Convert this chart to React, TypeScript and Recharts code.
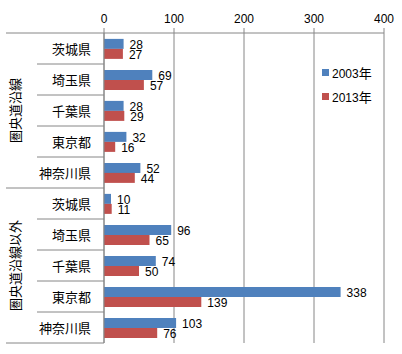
import { BarChart, Bar, XAxis, YAxis, CartesianGrid, Legend, LabelList } from "recharts";

// categories (prefectures), grouped by corridor
const groups = ["圏央道沿線", "圏央道沿線以外"];
const prefectures = ["茨城県", "埼玉県", "千葉県", "東京都", "神奈川県"];
const seriesNames = ["2003年", "2013年"];
const values2003 = [28, 69, 28, 32, 52, 10, 96, 74, 338, 103];
const values2013 = [27, 57, 29, 16, 44, 11, 65, 50, 139, 76];
const xTicks = [0, 100, 200, 300, 400];

const colors = ["#4F81BD", "#C0504D"];
const lineColor = "#868686";
const numFont = "'Liberation Sans', Arial, sans-serif";
const jpFont = "'Noto Sans CJK JP', sans-serif";

const W = 402;
const H = 354;
const AXIS_W = 104;
const TOP = 33;
const BOTTOM = 11;
const RIGHT = 18;
const PLOT_H = H - TOP - BOTTOM;

const data = groups.flatMap((g, gi) =>
  prefectures.map((p, pi) => ({
    key: `${g}-${p}`,
    group: g,
    pref: p,
    v2003: values2003[gi * prefectures.length + pi],
    v2013: values2013[gi * prefectures.length + pi],
  }))
);

const band = PLOT_H / data.length;

function CategoryTick(props: any) {
  const { y, payload } = props;
  const i = payload.index;
  const row = data[i];
  if (!row) return null;
  const pi = i % prefectures.length;
  const lastInGroup = pi === prefectures.length - 1;
  const isMiddle = pi === Math.floor(prefectures.length / 2);
  const bottomY = y + band / 2;
  return (
    <g>
      <text
        x={91}
        y={y}
        textAnchor="end"
        dominantBaseline="central"
        fontFamily={jpFont}
        fontSize={13}
        fill="#000"
      >
        {row.pref}
      </text>
      {i === 0 && (
        <line x1={6} x2={AXIS_W} y1={y - band / 2} y2={y - band / 2} stroke={lineColor} />
      )}
      <line
        x1={lastInGroup ? 6 : 37}
        x2={AXIS_W}
        y1={bottomY}
        y2={bottomY}
        stroke={lineColor}
      />
      {isMiddle && (
        <text
          x={14}
          y={y}
          transform={`rotate(-90 14 ${y})`}
          textAnchor="middle"
          dominantBaseline="central"
          fontFamily={jpFont}
          fontSize={13}
          fill="#000"
        >
          {row.group}
        </text>
      )}
    </g>
  );
}

// value label just past the bar end, nudged down a little like the original
function ValueLabel(props: any) {
  const { x, y, width, height, value } = props;
  return (
    <text
      x={x + width + 6}
      y={y + height / 2 + 1.5}
      dominantBaseline="central"
      fontFamily={numFont}
      fontSize={12}
      fill="#000"
    >
      {value}
    </text>
  );
}

function LegendBox() {
  return (
    <div style={{ fontFamily: numFont, fontSize: 12, color: "#000" }}>
      {seriesNames.map((n, i) => (
        <div key={n} style={{ display: "flex", alignItems: "center", height: 24 }}>
          <span
            style={{
              display: "inline-block",
              width: 7,
              height: 7,
              background: colors[i],
              marginRight: 3,
            }}
          />
          <span>
            {n.slice(0, -1)}
            <span style={{ fontFamily: jpFont, fontSize: 13 }}>{n.slice(-1)}</span>
          </span>
        </div>
      ))}
    </div>
  );
}

export default function App() {
  return (
    <div style={{ position: "absolute", left: 0, top: 0, width: W, height: H, background: "#fff" }}>
      <BarChart
        width={W}
        height={H}
        data={data}
        layout="vertical"
        margin={{ top: 0, right: RIGHT, bottom: BOTTOM, left: 0 }}
        barCategoryGap="19%"
        barGap={0}
      >
        <CartesianGrid horizontal={false} stroke={lineColor} />
        <XAxis
          type="number"
          orientation="top"
          domain={[0, 400]}
          ticks={xTicks}
          height={TOP}
          stroke={lineColor}
          tickSize={5}
          tickMargin={5}
          tick={{ fill: "#000", fontFamily: numFont, fontSize: 12 }}
        />
        <YAxis
          type="category"
          dataKey="key"
          width={AXIS_W}
          stroke={lineColor}
          tickLine={false}
          tick={<CategoryTick />}
          interval={0}
        />
        <Legend
          layout="vertical"
          align="center"
          verticalAlign="middle"
          wrapperStyle={{ left: 322, top: 60, width: 70 }}
          content={<LegendBox />}
        />
        <Bar dataKey="v2003" name={seriesNames[0]} fill={colors[0]} isAnimationActive={false}>
          <LabelList dataKey="v2003" content={<ValueLabel />} />
        </Bar>
        <Bar dataKey="v2013" name={seriesNames[1]} fill={colors[1]} isAnimationActive={false}>
          <LabelList dataKey="v2013" content={<ValueLabel />} />
        </Bar>
      </BarChart>
    </div>
  );
}
